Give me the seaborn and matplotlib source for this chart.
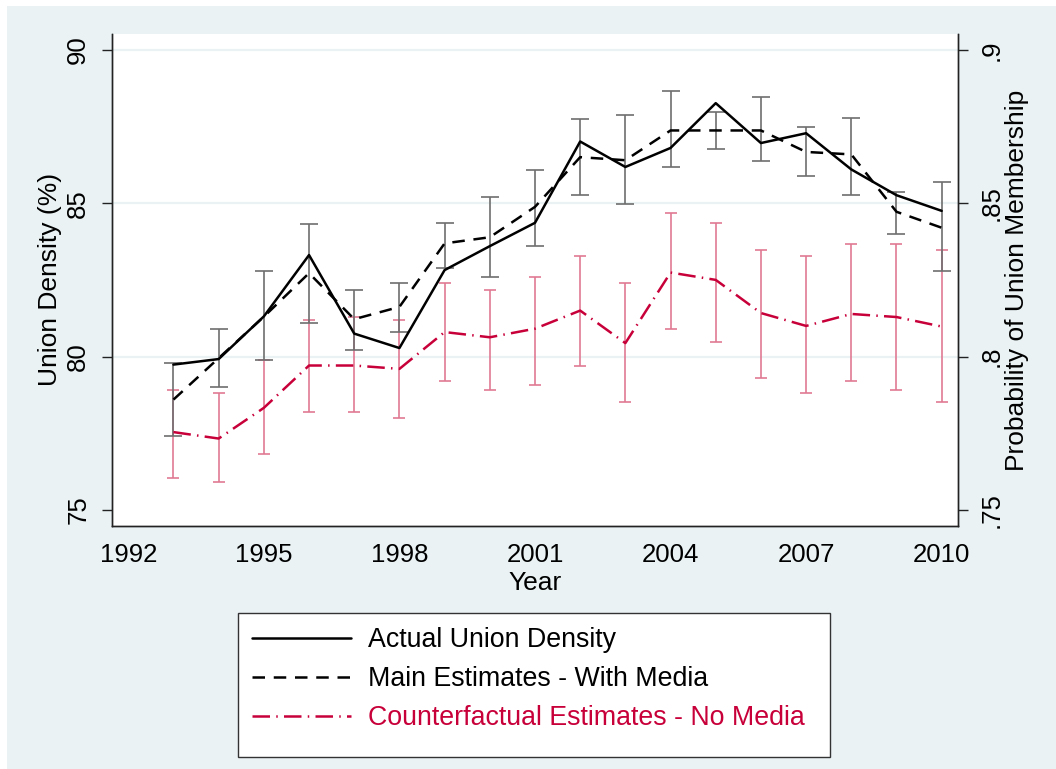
import numpy as np
import pandas as pd
import matplotlib
matplotlib.use("Agg")
import matplotlib.pyplot as plt
from matplotlib.patches import Rectangle
import seaborn as sns

# values
years = list(range(1993, 2011))
actual = [79.74, 79.92, 81.31, 83.31, 80.75, 80.28, 82.82, 83.60, 84.36,
          87.01, 86.18, 86.80, 88.26, 86.96, 87.28, 86.10, 85.26, 84.75]
main_est = [78.60, 79.95, 81.30, 82.72, 81.22, 81.62, 83.69, 83.89, 84.88,
            86.50, 86.40, 87.37, 87.37, 87.37, 86.67, 86.59, 84.72, 84.20]
main_lo = [77.41, 79.02, 79.90, 81.09, 80.20, 80.80, 82.88, 82.59, 83.60,
           85.27, 84.98, 86.18, 86.76, 86.37, 85.88, 85.27, 83.98, 82.80]
main_hi = [79.79, 80.91, 82.79, 84.31, 82.18, 82.41, 84.37, 85.19, 86.07,
           87.75, 87.87, 88.65, 87.96, 88.47, 87.47, 87.76, 85.37, 85.68]
cf_est = [77.54, 77.33, 78.33, 79.71, 79.71, 79.60, 80.80, 80.63, 80.91,
          81.50, 80.44, 82.74, 82.50, 81.42, 81.00, 81.39, 81.29, 80.98]
cf_lo = [76.03, 75.92, 76.82, 78.19, 78.19, 78.01, 79.20, 78.91, 79.09,
         79.71, 78.52, 80.91, 80.48, 79.31, 78.80, 79.20, 78.91, 78.52]
cf_hi = [78.91, 78.80, 79.90, 81.20, 81.29, 81.20, 82.41, 82.18, 82.58,
         83.29, 82.39, 84.69, 84.37, 83.47, 83.29, 83.68, 83.68, 83.47]

x_ticks = [1992, 1995, 1998, 2001, 2004, 2007, 2010]
y_ticks = [75, 80, 85, 90]
y2_ticks = [0.75, 0.80, 0.85, 0.90]
y2_labels = [".75", ".8", ".85", ".9"]
grid_at = [80, 85, 90]
labels = ["Actual Union Density", "Main Estimates - With Media",
          "Counterfactual Estimates - No Media"]

BG = "#EAF2F3"
RED = "#C8003A"
RED_BAR = "#E07A94"
GRAY_BAR = "#6E6E6E"
FS = 19

sns.set_style("white")
plt.rcParams["font.family"] = ["Liberation Sans", "DejaVu Sans"]
plt.rcParams.update({"font.size": FS, "text.color": "black",
                     "axes.labelcolor": "black", "xtick.color": "black",
                     "ytick.color": "black"})

df = pd.DataFrame({"year": years, "actual": actual, "main": main_est,
                   "main_lo": main_lo, "main_hi": main_hi, "cf": cf_est,
                   "cf_lo": cf_lo, "cf_hi": cf_hi})

W, H = 1056, 769
fig = plt.figure(figsize=(W / 100, H / 100), dpi=100, facecolor="white")
fig.patches.append(Rectangle((7 / W, 0), 1 - 7 / W, 1 - 6 / H,
                             transform=fig.transFigure, facecolor=BG,
                             edgecolor="none", zorder=-2))
ax = fig.add_axes([111.7 / W, 1 - 526 / H, (958.4 - 111.7) / W, (526 - 33.8) / H])
ax.set_facecolor("white")

for g in grid_at:
    ax.axhline(g, color=BG, lw=1.6, zorder=0)

# confidence intervals
ax.errorbar(df["year"], (df["cf_lo"] + df["cf_hi"]) / 2,
            yerr=(df["cf_hi"] - df["cf_lo"]) / 2, fmt="none",
            ecolor=RED_BAR, elinewidth=1.2, capsize=4.2, capthick=1.2, zorder=2)
ax.errorbar(df["year"], (df["main_lo"] + df["main_hi"]) / 2,
            yerr=(df["main_hi"] - df["main_lo"]) / 2, fmt="none",
            ecolor=GRAY_BAR, elinewidth=1.2, capsize=6.8, capthick=1.2, zorder=2)

sns.lineplot(data=df, x="year", y="actual", color="black", lw=1.8, ax=ax, zorder=3)
sns.lineplot(data=df, x="year", y="main", color="black", lw=1.8,
             linestyle=(0, (5, 3.5)), ax=ax, zorder=3)
sns.lineplot(data=df, x="year", y="cf", color=RED, lw=1.8,
             linestyle=(0, (7, 2.5, 0.6, 2.5)), ax=ax, zorder=3)

ax.set_xlim(1991.633, 2010.37)
ax.set_ylim(74.48, 90.52)
ax.set_xticks(x_ticks)
ax.set_yticks(y_ticks)
ax.tick_params(axis="both", direction="out", length=7.5, width=1, color="#222222",
               labelsize=FS - 0.5, labelcolor="black")
ax.tick_params(axis="x", pad=4.5)
ax.tick_params(axis="y", labelrotation=90, pad=8)
for lab in ax.get_yticklabels():
    lab.set_va("center")

ax.set_xlabel("Year", fontsize=FS, color="black")
ax.xaxis.set_label_coords(0.5, (526 - 583) / (526 - 33.8))
ax.xaxis.label.set_va("center")
ax.set_ylabel("Union Density (%)", fontsize=FS, color="black")
ax.yaxis.set_label_coords((50 - 111.7) / (958.4 - 111.7), 0.5)
ax.yaxis.label.set_va("center")

ax2 = ax.twinx()
ax2.set_ylim(74.48 / 100, 90.52 / 100)
ax2.set_yticks(y2_ticks)
ax2.set_yticklabels(y2_labels)
ax2.tick_params(axis="y", direction="out", length=7.5, width=1, color="#222222",
                labelsize=FS - 0.5, labelcolor="black", labelrotation=90, pad=8)
for lab in ax2.get_yticklabels():
    lab.set_va("center")
ax2.set_ylabel("Probability of Union Membership", fontsize=FS, color="black")
ax2.yaxis.set_label_coords((1017 - 111.7) / (958.4 - 111.7), 0.5)
ax2.yaxis.label.set_va("center")

for a in (ax, ax2):
    a.spines["top"].set_visible(False)
    for s in ("left", "right", "bottom"):
        a.spines[s].set_color("#222222")
        a.spines[s].set_linewidth(1.0)

# legend box below the plot
fig.patches.append(Rectangle((238 / W, 1 - 757 / H), 592 / W, 144 / H,
                             transform=fig.transFigure, facecolor="white",
                             edgecolor="#333333", lw=1.0, zorder=-1))
handles = ax.get_lines()[-3:]
leg = fig.legend(handles, labels, loc="upper left",
                 bbox_to_anchor=(252 / W, 1 - 627 / H), frameon=False,
                 fontsize=FS + 0.3, handlelength=3.7, handletextpad=0.64,
                 labelspacing=0.49, borderpad=0, borderaxespad=0)
for i, t in enumerate(leg.get_texts()):
    t.set_color(RED if i == 2 else "black")

fig.savefig("out.png", dpi=100, facecolor=fig.get_facecolor())
